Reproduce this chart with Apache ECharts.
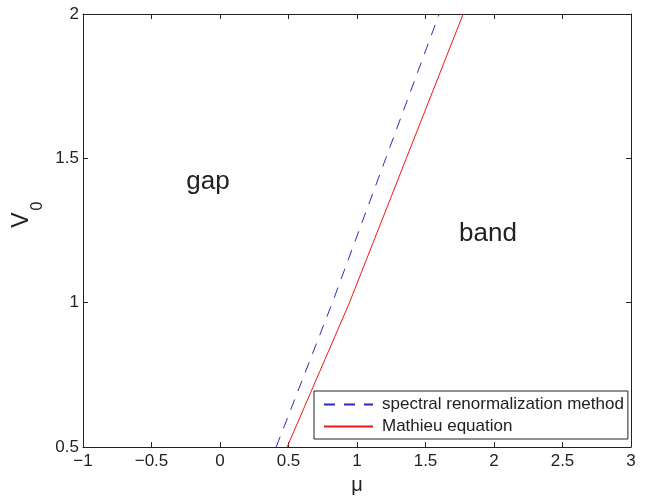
<!DOCTYPE html>
<html><head><meta charset="utf-8">
<script src="https://cdn.jsdelivr.net/npm/echarts@6/dist/echarts.min.js"></script>
<style>html,body{margin:0;padding:0;background:#fff}#c{width:650px;height:498px}</style>
</head><body><div id="c"></div>
<script>
// data
const vValues = [0.5, 1.0, 1.5, 2.0];
const muSpectral = [0.41, 0.82, 1.21, 1.60];
const muMathieu = [0.49, 0.945, 1.36, 1.775];
const xTicks = [-1, -0.5, 0, 0.5, 1, 1.5, 2, 2.5, 3];
const yTicks = [0.5, 1, 1.5, 2];
const seriesNames = ['spectral renormalization method', 'Mathieu equation'];

const font = 'Liberation Sans, Arial, Helvetica, sans-serif';
const ink = '#222';
const chart = echarts.init(document.getElementById('c'));
const axisCommon = {
  axisLine: {show: true, onZero: false, lineStyle: {color: ink, width: 1}},
  axisTick: {show: true, inside: true, length: 5, lineStyle: {color: ink}},
  splitLine: {show: false}
};
chart.setOption({
  animation: false,
  backgroundColor: '#fff',
  grid: {left: 83, right: 19, top: 14, bottom: 51, containLabel: false, outerBoundsMode: 'none'},
  xAxis: [
    Object.assign({type: 'value', min: xTicks[0], max: xTicks[xTicks.length - 1], interval: 0.5, position: 'bottom',
      name: 'μ', nameLocation: 'middle', nameGap: 28,
      nameTextStyle: {fontFamily: font, fontSize: 20, color: ink},
      axisLabel: {fontFamily: font, fontSize: 17, color: ink, margin: 6,
        formatter: v => (v < 0 ? '\u2212' + Math.abs(v) : String(v))}}, axisCommon),
    Object.assign({type: 'value', min: xTicks[0], max: xTicks[xTicks.length - 1], interval: 0.5, position: 'top',
      axisLabel: {show: false}}, axisCommon)
  ],
  yAxis: [
    Object.assign({type: 'value', min: yTicks[0], max: yTicks[yTicks.length - 1], interval: 0.5, position: 'left',
      axisLabel: {fontFamily: font, fontSize: 17, color: ink, margin: 4}}, axisCommon),
    Object.assign({type: 'value', min: yTicks[0], max: yTicks[yTicks.length - 1], interval: 0.5, position: 'right',
      axisLabel: {show: false}}, axisCommon)
  ],
  legend: {
    left: 314, top: 391, orient: 'vertical',
    itemWidth: 49, itemHeight: 16, itemGap: 5,
    padding: [5, 4, 4, 9],
    borderColor: ink, borderWidth: 1, borderRadius: 0, backgroundColor: '#fff',
    textStyle: {fontFamily: font, fontSize: 17, color: ink, padding: [0, 0, 0, 4]},
    data: seriesNames
  },
  series: [
    {name: seriesNames[0], type: 'line', symbol: 'none', silent: true,
      data: vValues.map((v, i) => [muSpectral[i], v]),
      lineStyle: {color: '#2b2bbb', width: 1, type: [11, 9]}, itemStyle: {color: 'rgba(0,0,0,0)'}},
    {name: seriesNames[1], type: 'line', symbol: 'none', silent: true,
      data: vValues.map((v, i) => [muMathieu[i], v]),
      lineStyle: {color: '#f51515', width: 1}, itemStyle: {color: 'rgba(0,0,0,0)'}}
  ],
  graphic: [
    {type: 'text', x: 208, y: 182, style: {text: 'gap', fontFamily: font, fontSize: 26, fill: ink, align: 'center', verticalAlign: 'middle'}},
    {type: 'text', x: 488, y: 234, style: {text: 'band', fontFamily: font, fontSize: 26, fill: ink, align: 'center', verticalAlign: 'middle'}},
    {type: 'text', x: 22, y: 220, rotation: Math.PI / 2, style: {text: 'V', fontFamily: font, fontSize: 23, fill: ink, align: 'center', verticalAlign: 'middle'}},
    {type: 'text', x: 38, y: 206, rotation: Math.PI / 2, style: {text: '0', fontFamily: font, fontSize: 16, fill: ink, align: 'center', verticalAlign: 'middle'}}
  ]
});
</script></body></html>
